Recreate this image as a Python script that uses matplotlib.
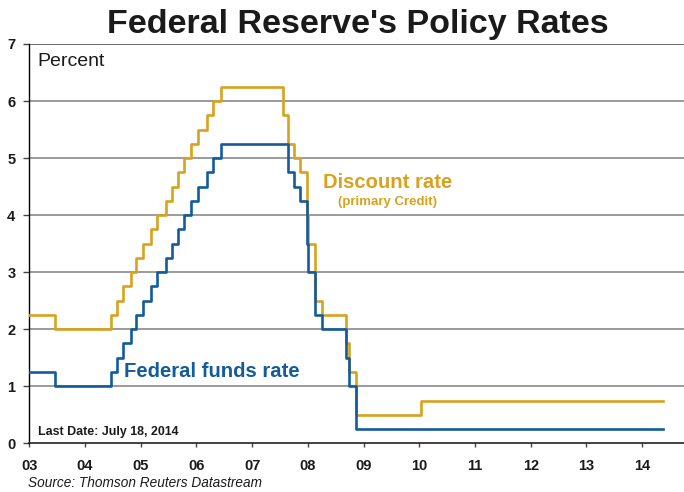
import matplotlib
matplotlib.use("Agg")
import matplotlib.pyplot as plt
import pandas as pd

plt.rcParams['font.family'] = ['Liberation Sans', 'DejaVu Sans']

# Federal funds target rate (percent), effective from each date
ff_dates = ["2003-01-01", "2003-06-25", "2004-06-30", "2004-08-10", "2004-09-21",
            "2004-11-10", "2004-12-14", "2005-02-02", "2005-03-22", "2005-05-03",
            "2005-06-30", "2005-08-09", "2005-09-20", "2005-11-01", "2005-12-13",
            "2006-01-31", "2006-03-28", "2006-05-10", "2006-06-29", "2007-09-18",
            "2007-10-31", "2007-12-11", "2008-01-22", "2008-01-30", "2008-03-18",
            "2008-04-30", "2008-10-08", "2008-10-29", "2008-12-16", "2014-07-18"]
ff_rate = [1.25, 1.00, 1.25, 1.50, 1.75, 2.00, 2.25, 2.50, 2.75, 3.00,
           3.25, 3.50, 3.75, 4.00, 4.25, 4.50, 4.75, 5.00, 5.25, 4.75,
           4.50, 4.25, 3.50, 3.00, 2.25, 2.00, 1.50, 1.00, 0.25, 0.25]

# Discount rate (primary credit, percent), effective from each date
dr_dates = ["2003-01-01", "2003-06-25", "2004-06-30", "2004-08-10", "2004-09-21",
            "2004-11-10", "2004-12-14", "2005-02-02", "2005-03-22", "2005-05-03",
            "2005-06-30", "2005-08-09", "2005-09-20", "2005-11-01", "2005-12-13",
            "2006-01-31", "2006-03-28", "2006-05-10", "2006-06-29", "2007-08-17",
            "2007-09-18", "2007-10-31", "2007-12-11", "2008-01-22", "2008-01-30",
            "2008-03-16", "2008-03-18", "2008-04-30", "2008-10-08", "2008-10-29",
            "2008-12-16", "2010-02-19", "2014-07-18"]
dr_rate = [2.25, 2.00, 2.25, 2.50, 2.75, 3.00, 3.25, 3.50, 3.75, 4.00,
           4.25, 4.50, 4.75, 5.00, 5.25, 5.50, 5.75, 6.00, 6.25, 5.75,
           5.25, 5.00, 4.75, 4.00, 3.50, 3.25, 2.50, 2.25, 1.75, 1.25,
           0.50, 0.75, 0.75]

year_labels = ["03", "04", "05", "06", "07", "08", "09", "10", "11", "12", "13", "14"]

GOLD = "#D9A21E"
BLUE = "#135B9A"

# tick grid of the source chart: first tick and spacing between year marks
tick_start = pd.Timestamp("2003-01-06")
tick_step = pd.Timedelta(days=370)
tick_pos = [tick_start + i * tick_step for i in range(len(year_labels))]

fig = plt.figure(figsize=(6.84, 4.92), dpi=100)
ax = fig.add_axes([0.0428, 0.0990, 0.9572, 0.8116])

ax.plot(pd.to_datetime(dr_dates), dr_rate, drawstyle="steps-post",
        color=GOLD, lw=1.9, zorder=3)
ax.plot(pd.to_datetime(ff_dates), ff_rate, drawstyle="steps-post",
        color=BLUE, lw=1.9, zorder=4)

ax.set_ylim(0, 7)
ax.set_yticks(range(0, 8))
ax.set_xlim(tick_start, tick_start + 11.75 * tick_step)
ax.set_xticks(tick_pos)
ax.set_xticklabels(year_labels)

for y in range(1, 8):
    ax.axhline(y, color="#8a8a8a" if y < 7 else "#555555", lw=1.2, zorder=1)

for s in ("top", "right"):
    ax.spines[s].set_visible(False)
ax.spines["left"].set_color("black")
ax.spines["left"].set_linewidth(1.0)
ax.spines["bottom"].set_color("#222222")
ax.spines["bottom"].set_linewidth(1.2)

ax.tick_params(axis="y", direction="out", length=4, width=1, pad=6,
               labelsize=10.5, color="#444444")
ax.tick_params(axis="x", direction="out", length=3, width=1, pad=8,
               labelsize=10.5, color="#444444")
for lab in ax.get_xticklabels() + ax.get_yticklabels():
    lab.set_fontweight("bold")
    lab.set_color("#1a1a1a")

fig.text(0.523, 0.950, "Federal Reserve's Policy Rates", ha="center", va="center",
         fontsize=24.5, fontweight="bold", color="#1a1a1a")
fig.text(0.055, 0.874, "Percent", ha="left", va="center", fontsize=14, color="#1a1a1a")
fig.text(0.055, 0.122, "Last Date: July 18, 2014", ha="left", va="center",
         fontsize=8.9, fontweight="bold", color="#1a1a1a")
fig.text(0.041, 0.005, "Source: Thomson Reuters Datastream", ha="left", va="bottom",
         fontsize=9.8, style="italic", color="#1a1a1a")

fig.text(0.567, 0.630, "Discount rate", ha="center", va="center",
         fontsize=14.6, fontweight="bold", color=GOLD)
fig.text(0.567, 0.589, "(primary Credit)", ha="center", va="center",
         fontsize=9.5, fontweight="bold", color=GOLD)
fig.text(0.181, 0.244, "Federal funds rate", ha="left", va="center",
         fontsize=14.6, fontweight="bold", color=BLUE)

fig.savefig("out.png", dpi=100)
